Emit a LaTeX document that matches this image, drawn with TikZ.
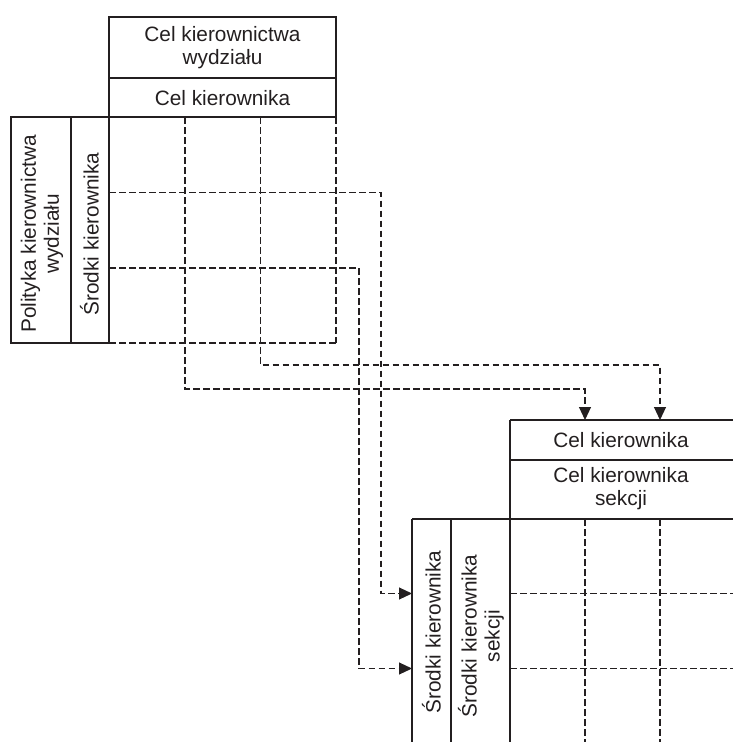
\documentclass[tikz,border=0pt]{standalone}
\usepackage{fontspec}
\setmainfont{Liberation Sans}
\usetikzlibrary{arrows.meta}
\definecolor{ink}{HTML}{231F20}
\begin{document}
\begin{tikzpicture}[x=1pt,y=-1pt,
  frame/.style={draw=ink, line width=2pt},
  label/.style={inner sep=0pt, align=center, text=ink, font=\fontsize{20.8}{23}\selectfont},
  gridline/.style={draw=ink, line width=1.1pt, dash pattern=on 6.5pt off 3.5pt},
  conn/.style={gridline, -{Triangle[length=13pt,width=12pt]}}]
\useasboundingbox (0,0) rectangle (732,742);

% ---- upper matrix: department level ----
\coordinate (uA) at (109,17);
\coordinate (uB) at (336,117);
\draw[frame] (uA) rectangle (uB);
\draw[frame] (109,78) -- (336,78);
\coordinate (sA) at (11,117);
\coordinate (sB) at (109,343);
\draw[frame] (sA) rectangle (sB);
\draw[frame] (71,117) -- (71,343);

\node[label] (celWydz) at (222.5,48) {Cel kierownictwa\\wydziału};
\node[label] (celKier) at (222.5,98) {Cel kierownika};
\node[label, rotate=90] (polWydz) at (42,234) {Polityka kierownictwa\\wydziału};
\node[label, rotate=90] (srKier) at (89.5,234) {Środki kierownika};

% grid of the upper matrix
\draw[gridline] (336,117) -- (336,343);
\draw[gridline] (109,343) -- (336,343);

% ---- lower matrix: section level ----
\draw[frame] (510,420) -- (740,420);
\draw[frame] (510,460) -- (740,460);
\draw[frame] (412,519) -- (740,519);
\draw[frame] (510,420) -- (510,750);
\draw[frame] (412,519) -- (412,750);
\draw[frame] (451,519) -- (451,750);

\node[label] (celKier2) at (621,440) {Cel kierownika};
\node[label] (celSek) at (621,489) {Cel kierownika\\sekcji};
\node[label, rotate=90] (srKier2) at (431.5,632) {Środki kierownika};
\node[label, rotate=90] (srSek) at (481,636) {Środki kierownika\\sekcji};

% grid of the lower matrix
\draw[gridline] (585,519) -- (585,750);
\draw[gridline] (660,519) -- (660,750);
\draw[gridline] (510,593.5) -- (740,593.5);
\draw[gridline] (510,668.5) -- (740,668.5);

% ---- links between the two matrices ----
\coordinate (colA) at (185,117);
\coordinate (colB) at (260.5,117);
\coordinate (rowA) at (109,192.5);
\coordinate (rowB) at (109,268);
\coordinate (tgtColA) at (585,420);
\coordinate (tgtColB) at (660,420);
\coordinate (tgtRowA) at (412,593.5);
\coordinate (tgtRowB) at (412,668.5);

\draw[conn] (colA) -- (185,389) -| (tgtColA);
\draw[conn] (colB) -- (260.5,365) -| (tgtColB);
\draw[conn] (rowA) -- (381,192.5) |- (tgtRowA);
\draw[conn] (rowB) -- (359,268) |- (tgtRowB);
\end{tikzpicture}
\end{document}
